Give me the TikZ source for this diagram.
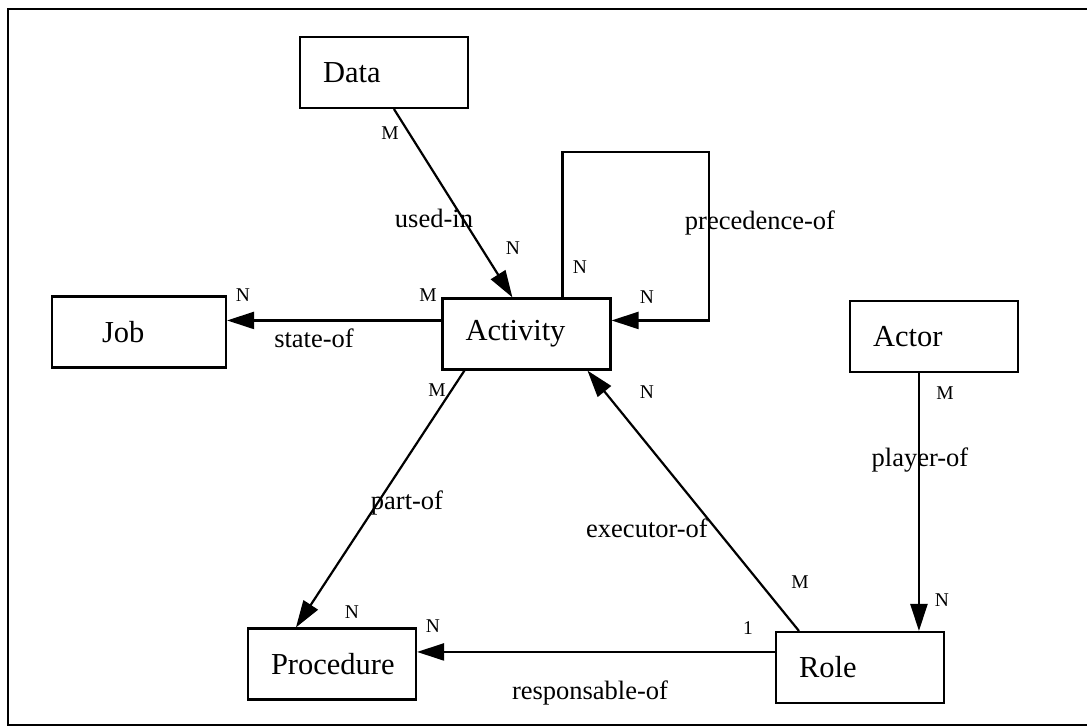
\documentclass[tikz,border=0pt]{standalone}
\usepackage{fontspec}
\setmainfont{Liberation Serif}
\usetikzlibrary{arrows.meta,calc}
\begin{document}
\begin{tikzpicture}[x=1pt,y=-1pt,
  entity/.style={draw, line width=2.1pt, rectangle, minimum height=71pt,
    text width=122pt, inner xsep=23pt, inner ysep=0pt, align=left,
    font=\fontsize{30.5}{32}\selectfont},
  rel/.style={line width=2.2pt, -{Triangle[length=27pt,width=17pt]}},
  card/.style={font=\fontsize{19.5}{21}\selectfont, inner sep=0pt},
  relname/.style={font=\fontsize{26.5}{28}\selectfont, inner sep=0pt}]

% page and frame
\fill[white] (0,0) rectangle (1087,727);
\useasboundingbox (0,0) rectangle (1087,727);
\draw[line width=2.6pt] (1100,9) -- (8,9) -- (8,725) -- (1100,725);

% entities
\node[entity] (data)      at (384,72.5)  {Data};
\node[entity] (activity)  at (526.5,334) {Activity};
\node[entity, text width=128pt] (job) at (139,332) {\hspace*{27pt}Job};
\node[entity] (actor)     at (934,336.5) {Actor};
\node[entity] (role)      at (860,667.5) {Role};
\node[entity] (procedure) at (332,664)   {Procedure};

% connector anchors on the box edges
\coordinate (usedA) at ($(data.south west)+(95,0)$);
\coordinate (usedB) at ($(activity.north west)+(71,0)$);
\coordinate (stateA) at ($(activity.north west)+(0,23)$);
\coordinate (loopA) at ($(activity.north west)+(121,0)$);
\coordinate (loopC) at (709,152);
\coordinate (loopB) at ($(activity.north east)+(0,23)$);
\coordinate (partA) at ($(activity.south west)+(23,0)$);
\coordinate (partB) at ($(procedure.north west)+(49,0)$);
\coordinate (execA) at ($(role.north west)+(24,0)$);
\coordinate (execB) at ($(activity.south west)+(146,0)$);
\coordinate (respA) at ($(role.north west)+(0,21)$);
\coordinate (playA) at ($(actor.south west)+(70,0)$);

% relationships
\draw[rel] (usedA) -- (usedB);
\draw[rel] (stateA) -- (stateA -| job.east);
\draw[rel] (loopA) |- (loopC) |- (loopB);
\draw[rel] (partA) -- (partB);
\draw[rel] (execA) -- (execB);
\draw[rel] (respA) -- (respA -| procedure.east);
\draw[rel] (playA) -- (playA |- role.north);

% relationship names
\node[relname] (usedin)  at (434,218) {used-in};
\node[relname] (prec)    at (760,223) {precedence-of};
\node[relname] (stateof) at (314,338) {state-of};
\node[relname] (partof)  at (407,503) {part-of};
\node[relname] (execof)  at (647,528) {executor-of};
\node[relname] (player)  at (920,460) {player-of};
\node[relname] (resp)    at (590,693) {responsable-of};

% cardinalities
\node[card] (c1)  at (390,133) {M};
\node[card] (c2)  at (513,248) {N};
\node[card] (c3)  at (580,267) {N};
\node[card] (c4)  at (647,297) {N};
\node[card] (c5)  at (428,295) {M};
\node[card] (c6)  at (243,295) {N};
\node[card] (c7)  at (437,390) {M};
\node[card] (c8)  at (647,392) {N};
\node[card] (c9)  at (945,393) {M};
\node[card] (c10) at (942,600) {N};
\node[card] (c11) at (800,582) {M};
\node[card] (c12) at (748,628) {1};
\node[card] (c13) at (352,612) {N};
\node[card] (c14) at (433,626) {N};
\end{tikzpicture}
\end{document}
